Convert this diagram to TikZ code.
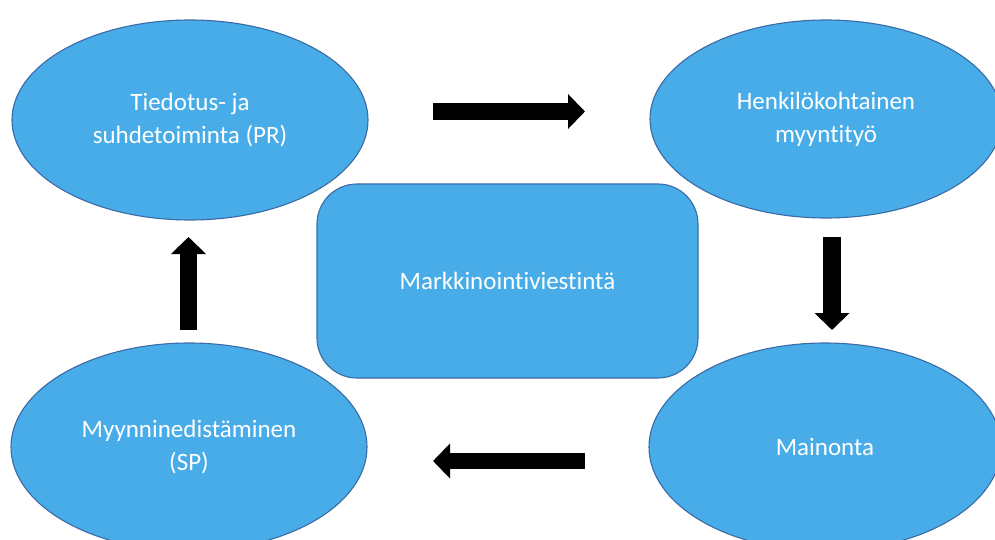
\documentclass[tikz,border=0pt]{standalone}
\usepackage{fontspec}
\setmainfont{Carlito}[RawFeature={-liga}]
\usetikzlibrary{shapes.geometric,arrows.meta}
\definecolor{boxblue}{HTML}{48ACE8}
\definecolor{edgeblue}{HTML}{3A6BA5}
\tikzset{
  oval/.style={ellipse, draw=edgeblue, line width=1.1pt, fill=boxblue, text=white,
    inner sep=0pt, align=center, font=\fontsize{25}{33}\selectfont},
  centrebox/.style={rectangle, rounded corners=40pt, draw=edgeblue, line width=1.1pt,
    fill=boxblue, text=white, inner sep=0pt, align=center, font=\fontsize{25}{33}\selectfont},
  blockarrow/.style={draw=black, line width=#1pt, -{Triangle[width=34pt,length=17pt]}},
}
\begin{document}
\begin{tikzpicture}[x=1pt,y=-1pt]
\useasboundingbox (0,0) rectangle (995,540);
\clip (0,0) rectangle (995,540);
\fill[white] (0,0) rectangle (995,540);

\node[oval, minimum width=356pt, minimum height=200pt] (pr) at (190,120)
  {Tiedotus- ja\\suhdetoiminta (PR)};
\node[oval, minimum width=352pt, minimum height=198pt] (hm) at (826,119)
  {Henkilökohtainen\\myyntityö};
\node[oval, minimum width=356pt, minimum height=208pt] (sp) at (189,447)
  {Myynninedistäminen\\(SP)};
\node[oval, minimum width=352pt, minimum height=208pt] (ma) at (825,447)
  {Mainonta};
\node[centrebox, minimum width=381pt, minimum height=194pt] (mv) at (507.5,281)
  {Markkinointiviestintä};

\coordinate (a1s) at (433,111.5);
\coordinate (a1e) at (585,111.5);
\coordinate (a2s) at (832,237);
\coordinate (a2e) at (832,330);
\coordinate (a3s) at (585,461);
\coordinate (a3e) at (433,461);
\coordinate (a4s) at (188.5,330);
\coordinate (a4e) at (188.5,237);

\draw[blockarrow=17] (a1s) -- (a1e);
\draw[blockarrow=18] (a2s) -- (a2e);
\draw[blockarrow=16] (a3s) -- (a3e);
\draw[blockarrow=17] (a4s) -- (a4e);
\end{tikzpicture}
\end{document}
